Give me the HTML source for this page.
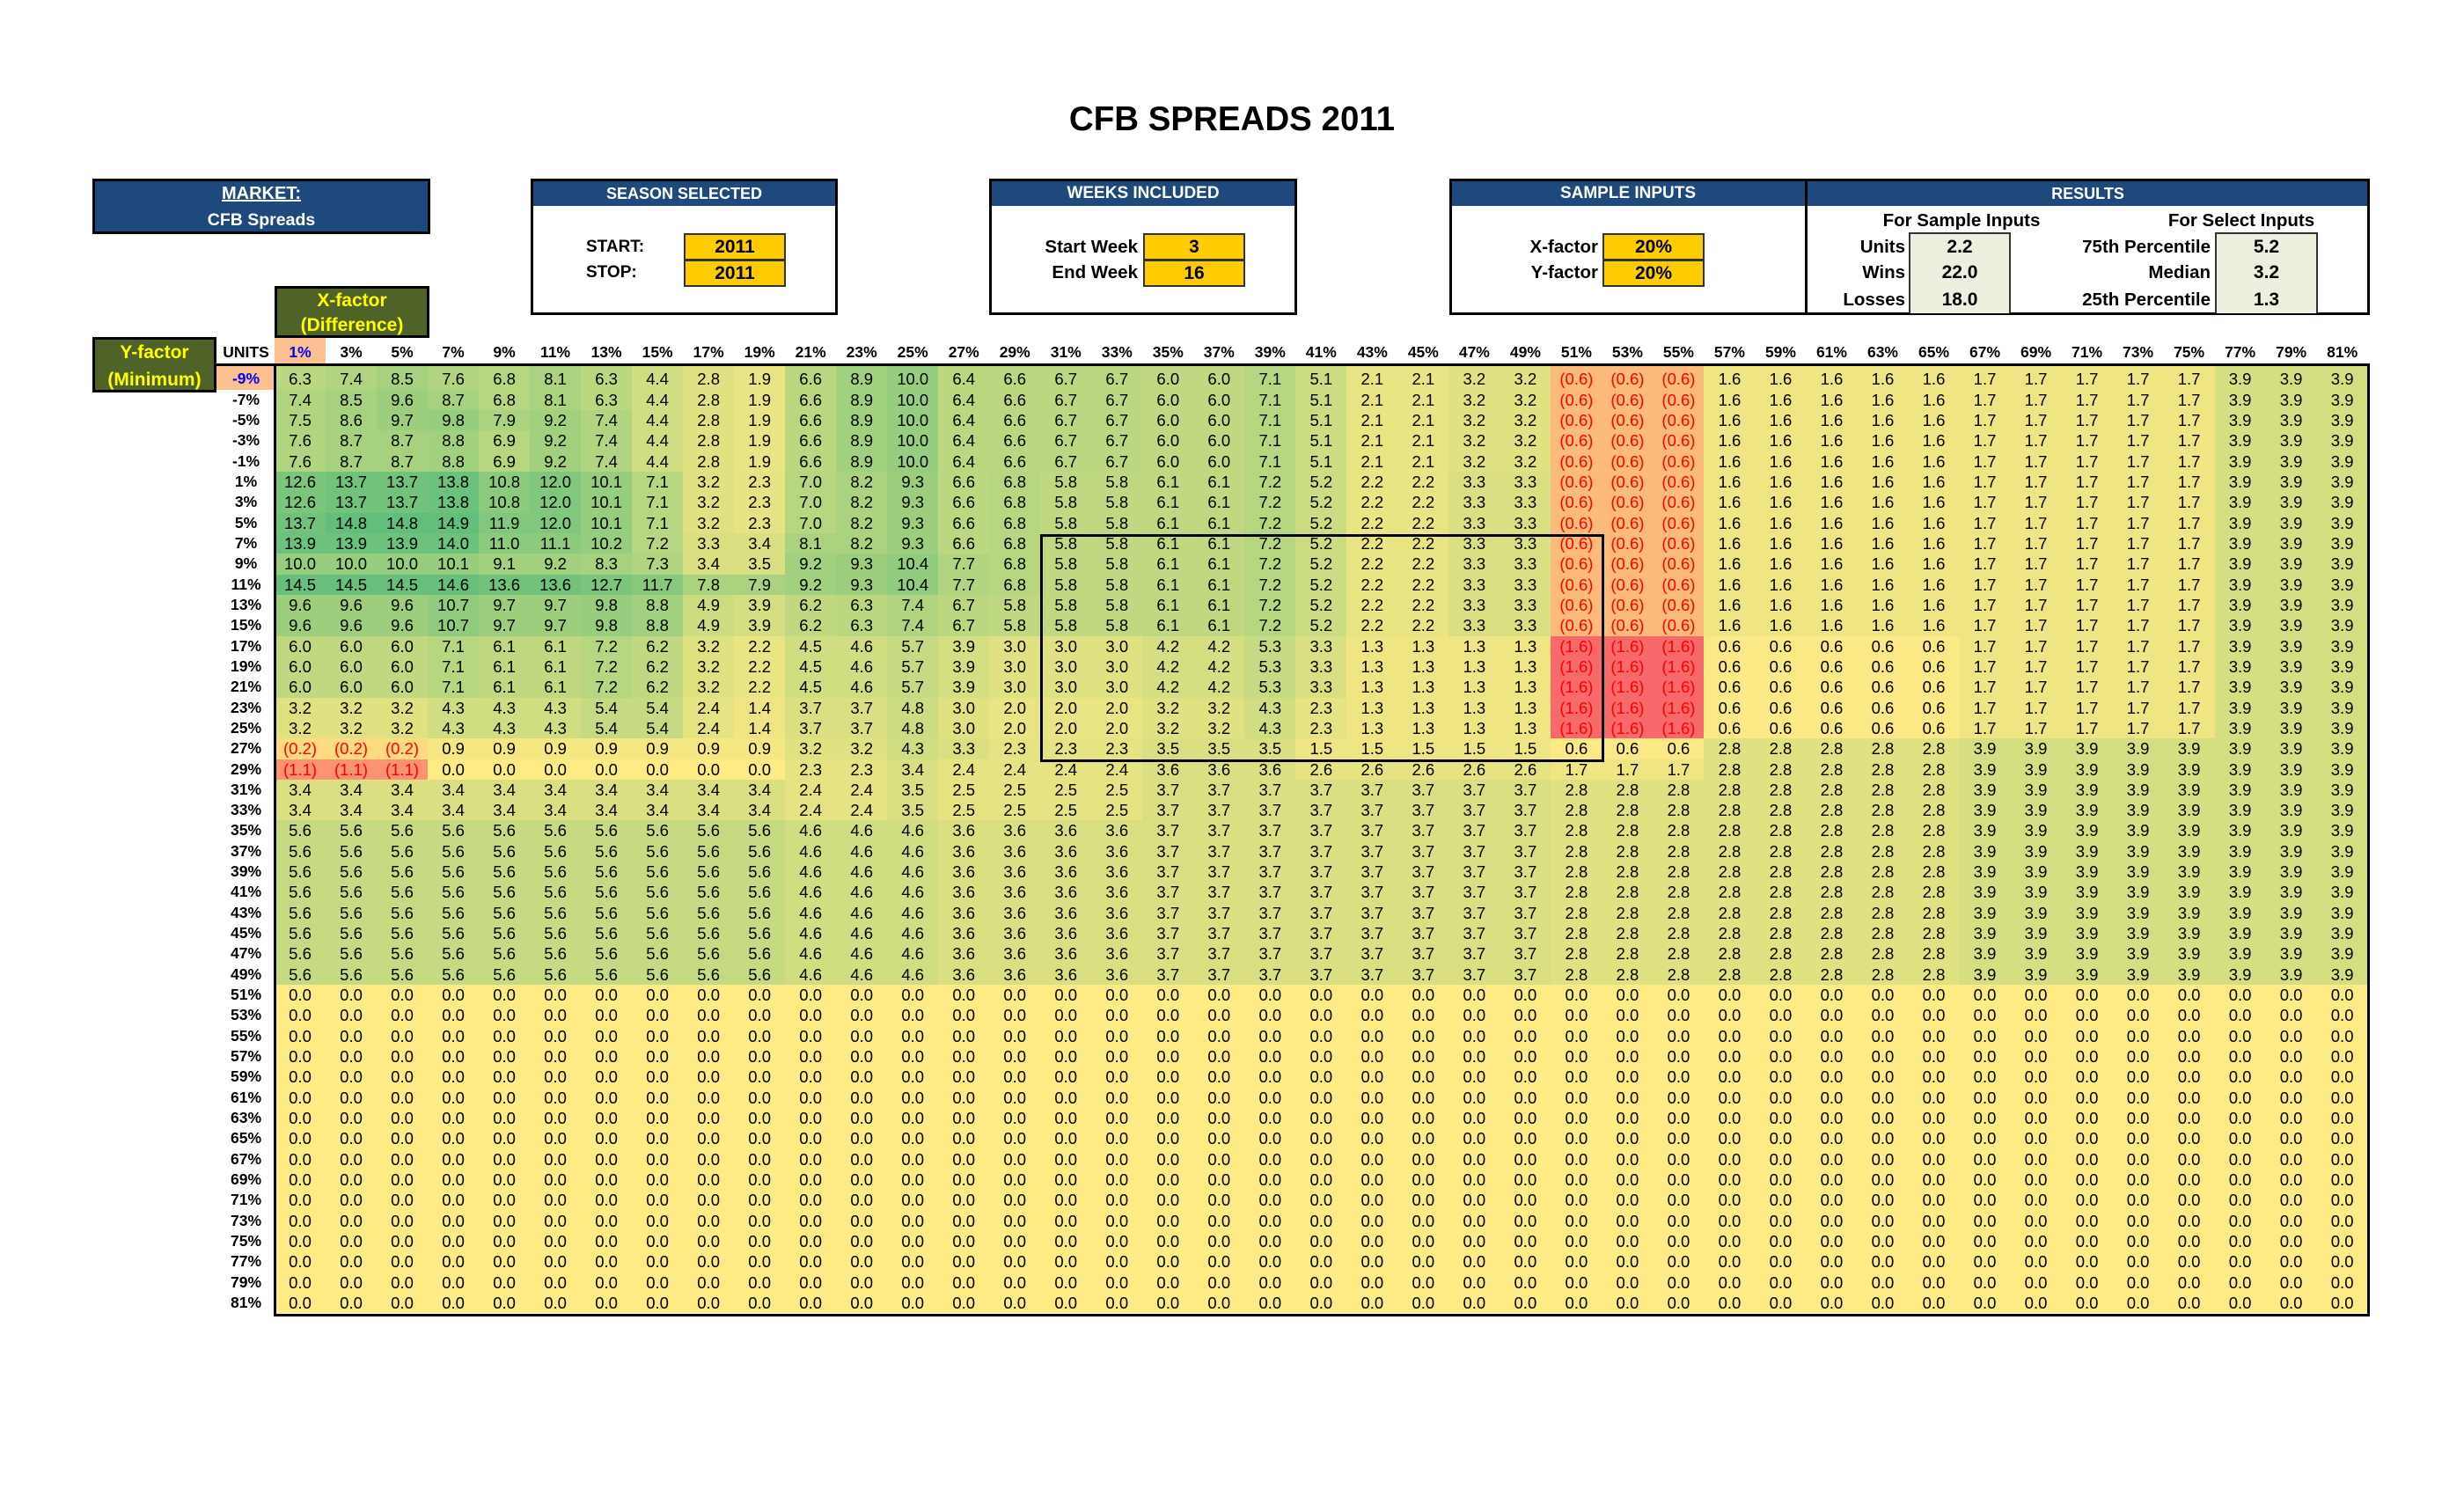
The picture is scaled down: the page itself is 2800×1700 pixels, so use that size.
<!DOCTYPE html>
<html><head><meta charset="utf-8">
<style>
*{box-sizing:border-box;margin:0;padding:0}
html,body{width:2800px;height:1700px;background:#fff;overflow:hidden}
body{position:relative;font-family:"Liberation Sans",Arial,sans-serif;color:#000}
.abs{position:absolute}
.t{position:absolute;white-space:nowrap;font-weight:bold;line-height:30px;height:30px}
.w{color:#fff}
.yl{color:#FFFF00}
.box{position:absolute;border:3px solid #000;background:#fff}
.hb{position:absolute;left:0;right:0;top:0;height:28px;background:#1F497D}
.y{position:absolute;width:116px;height:31px;background:#FFCC00;border:2px solid #333;font-weight:bold;font-size:21px;text-align:center;line-height:27px}
.ch{position:absolute;left:312px;top:384px;display:grid;grid-template-columns:repeat(41,58.03px);height:32px;font-weight:bold;font-size:17.5px}
.ch b{text-align:center;line-height:32px}
.ch b:first-child{background:#FAC090;color:#0000FF}
.rl{position:absolute;left:246px;top:416px;width:67px;display:grid;grid-template-rows:26.6px repeat(45,23.33px);font-weight:bold;font-size:17.5px}
.rl b{text-align:center;line-height:23.33px}
.rl b:first-child{padding-top:3px;background:#FAC090;color:#0000FF}
.g{position:absolute;left:312px;top:416px;display:grid;grid-template-columns:repeat(41,58.03px);grid-template-rows:26.6px repeat(45,23.33px);font-size:18.5px}
.g i{font-style:normal;text-align:center;line-height:23.33px;background:#FFEB84}
.g i:nth-child(-n+41){padding-top:3px}
.g i.a1{background:#FAE984}.g i.a2{background:#F5E883}.g i.a3{background:#EFE683}.g i.a4{background:#EAE583}
.g i.a5{background:#E5E382}.g i.a6{background:#E0E282}.g i.a7{background:#DAE082}.g i.a8{background:#D5DF82}
.g i.a9{background:#D0DD81}.g i.a10{background:#CBDC81}.g i.a11{background:#C5DA81}.g i.a12{background:#C0D980}
.g i.a13{background:#BBD780}.g i.a14{background:#B6D680}.g i.a15{background:#B0D47F}.g i.a16{background:#ABD37F}
.g i.a17{background:#A6D17F}.g i.a18{background:#A1D07F}.g i.a19{background:#9CCE7E}.g i.a20{background:#96CD7E}
.g i.a21{background:#91CB7E}.g i.a22{background:#8CCA7D}.g i.a23{background:#87C87D}.g i.a24{background:#81C77D}
.g i.a25{background:#7CC57C}.g i.a26{background:#77C47C}.g i.a27{background:#72C27C}.g i.a28{background:#6CC17C}
.g i.a29{background:#67BF7B}.g i.a30{background:#62BE7B}
.g i.r2{background:#FEDB81;color:#f00}.g i.r6{background:#FCBA7B;color:#f00}.g i.r11{background:#FA9273;color:#f00}.g i.r16{background:#F8696B;color:#f00}
</style></head><body>

<div class="t" style="left:1000px;top:111px;width:800px;text-align:center;font-size:38.5px;line-height:50px;height:50px">CFB SPREADS 2011</div>

<!-- MARKET -->
<div class="box" style="left:105px;top:203px;width:384px;height:63px;background:#1F497D"></div>
<div class="t w" style="left:105px;top:205px;width:384px;text-align:center;font-size:20px;text-decoration:underline">MARKET:</div>
<div class="t w" style="left:105px;top:235px;width:384px;text-align:center;font-size:19.5px">CFB Spreads</div>

<!-- SEASON -->
<div class="box" style="left:603px;top:203px;width:349px;height:155px"><div class="hb"></div></div>
<div class="t w" style="left:603px;top:205px;width:349px;text-align:center;font-size:18px">SEASON SELECTED</div>
<div class="t" style="left:666px;top:266px;font-size:19px">START:</div>
<div class="t" style="left:666px;top:295px;font-size:19px">STOP:</div>
<div class="y" style="left:777px;top:265px">2011</div>
<div class="y" style="left:777px;top:295px">2011</div>

<!-- WEEKS -->
<div class="box" style="left:1124px;top:203px;width:350px;height:155px"><div class="hb"></div></div>
<div class="t w" style="left:1124px;top:205px;width:350px;text-align:center;font-size:19px">WEEKS INCLUDED</div>
<div class="t" style="left:1093px;top:266px;width:200px;text-align:right;font-size:20.5px">Start Week</div>
<div class="t" style="left:1093px;top:295px;width:200px;text-align:right;font-size:20.5px">End Week</div>
<div class="y" style="left:1299px;top:265px">3</div>
<div class="y" style="left:1299px;top:295px">16</div>

<!-- SAMPLE / RESULTS -->
<div class="box" style="left:1647px;top:203px;width:1046px;height:155px"><div class="hb"></div></div>
<div class="abs" style="left:2051px;top:203px;width:3px;height:155px;background:#000"></div>
<div class="t w" style="left:1647px;top:205px;width:406px;text-align:center;font-size:19px">SAMPLE INPUTS</div>
<div class="t w" style="left:2053px;top:205px;width:639px;text-align:center;font-size:18px">RESULTS</div>
<div class="t" style="left:1616px;top:266px;width:200px;text-align:right;font-size:20.5px">X-factor</div>
<div class="t" style="left:1616px;top:295px;width:200px;text-align:right;font-size:20.5px">Y-factor</div>
<div class="y" style="left:1821px;top:265px">20%</div>
<div class="y" style="left:1821px;top:295px">20%</div>
<div class="t" style="left:2079px;top:236px;width:300px;text-align:center;font-size:20.5px">For Sample Inputs</div>
<div class="t" style="left:2397px;top:236px;width:300px;text-align:center;font-size:20.5px">For Select Inputs</div>
<div class="abs" style="left:2169px;top:264px;width:116px;height:92px;background:#EBF1DE;border:2px solid #333;border-bottom:0"></div>
<div class="abs" style="left:2517px;top:264px;width:117px;height:92px;background:#EBF1DE;border:2px solid #333;border-bottom:0"></div>
<div class="t" style="left:1965px;top:266px;width:200px;text-align:right;font-size:20.5px">Units</div>
<div class="t" style="left:1965px;top:295px;width:200px;text-align:right;font-size:20.5px">Wins</div>
<div class="t" style="left:1965px;top:326px;width:200px;text-align:right;font-size:20.5px">Losses</div>
<div class="t" style="left:2169px;top:266px;width:116px;text-align:center;font-size:21px">2.2</div>
<div class="t" style="left:2169px;top:295px;width:116px;text-align:center;font-size:21px">22.0</div>
<div class="t" style="left:2169px;top:326px;width:116px;text-align:center;font-size:21px">18.0</div>
<div class="t" style="left:2312px;top:266px;width:200px;text-align:right;font-size:20.5px">75th Percentile</div>
<div class="t" style="left:2312px;top:295px;width:200px;text-align:right;font-size:20.5px">Median</div>
<div class="t" style="left:2312px;top:326px;width:200px;text-align:right;font-size:20.5px">25th Percentile</div>
<div class="t" style="left:2517px;top:266px;width:117px;text-align:center;font-size:21px">5.2</div>
<div class="t" style="left:2517px;top:295px;width:117px;text-align:center;font-size:21px">3.2</div>
<div class="t" style="left:2517px;top:326px;width:117px;text-align:center;font-size:21px">1.3</div>

<!-- X / Y factor boxes -->
<div class="box" style="left:312px;top:325px;width:176px;height:59px;background:#4F6228"></div>
<div class="t yl" style="left:312px;top:327px;width:176px;text-align:center;font-size:21px">X-factor</div>
<div class="t yl" style="left:312px;top:355px;width:176px;text-align:center;font-size:21px">(Difference)</div>
<div class="box" style="left:105px;top:383px;width:141px;height:63px;background:#4F6228"></div>
<div class="t yl" style="left:105px;top:386px;width:141px;text-align:center;font-size:21px">Y-factor</div>
<div class="t yl" style="left:105px;top:417px;width:141px;text-align:center;font-size:21px">(Minimum)</div>
<div class="t" style="left:246px;top:385px;width:67px;text-align:center;font-size:17.5px">UNITS</div>

<!-- column headers -->
<div class="ch"><b>1%</b><b>3%</b><b>5%</b><b>7%</b><b>9%</b><b>11%</b><b>13%</b><b>15%</b><b>17%</b><b>19%</b><b>21%</b><b>23%</b><b>25%</b><b>27%</b><b>29%</b><b>31%</b><b>33%</b><b>35%</b><b>37%</b><b>39%</b><b>41%</b><b>43%</b><b>45%</b><b>47%</b><b>49%</b><b>51%</b><b>53%</b><b>55%</b><b>57%</b><b>59%</b><b>61%</b><b>63%</b><b>65%</b><b>67%</b><b>69%</b><b>71%</b><b>73%</b><b>75%</b><b>77%</b><b>79%</b><b>81%</b></div>

<!-- row labels -->
<div class="rl"><b>-9%</b><b>-7%</b><b>-5%</b><b>-3%</b><b>-1%</b><b>1%</b><b>3%</b><b>5%</b><b>7%</b><b>9%</b><b>11%</b><b>13%</b><b>15%</b><b>17%</b><b>19%</b><b>21%</b><b>23%</b><b>25%</b><b>27%</b><b>29%</b><b>31%</b><b>33%</b><b>35%</b><b>37%</b><b>39%</b><b>41%</b><b>43%</b><b>45%</b><b>47%</b><b>49%</b><b>51%</b><b>53%</b><b>55%</b><b>57%</b><b>59%</b><b>61%</b><b>63%</b><b>65%</b><b>67%</b><b>69%</b><b>71%</b><b>73%</b><b>75%</b><b>77%</b><b>79%</b><b>81%</b></div>

<!-- data grid -->
<div class="g">
<i class=a13>6.3</i><i class=a15>7.4</i><i class=a17>8.5</i><i class=a15>7.6</i><i class=a14>6.8</i><i class=a16>8.1</i><i class=a13>6.3</i><i class=a9>4.4</i><i class=a6>2.8</i><i class=a4>1.9</i><i class=a13>6.6</i><i class=a18>8.9</i><i class=a20>10.0</i><i class=a13>6.4</i><i class=a13>6.6</i><i class=a13>6.7</i><i class=a13>6.7</i><i class=a12>6.0</i><i class=a12>6.0</i><i class=a14>7.1</i><i class=a10>5.1</i><i class=a4>2.1</i><i class=a4>2.1</i><i class=a6>3.2</i><i class=a6>3.2</i><i class=r6>(0.6)</i><i class=r6>(0.6)</i><i class=r6>(0.6)</i><i class=a3>1.6</i><i class=a3>1.6</i><i class=a3>1.6</i><i class=a3>1.6</i><i class=a3>1.6</i><i class=a3>1.7</i><i class=a3>1.7</i><i class=a3>1.7</i><i class=a3>1.7</i><i class=a3>1.7</i><i class=a8>3.9</i><i class=a8>3.9</i><i class=a8>3.9</i>
<i class=a15>7.4</i><i class=a17>8.5</i><i class=a19>9.6</i><i class=a17>8.7</i><i class=a14>6.8</i><i class=a16>8.1</i><i class=a13>6.3</i><i class=a9>4.4</i><i class=a6>2.8</i><i class=a4>1.9</i><i class=a13>6.6</i><i class=a18>8.9</i><i class=a20>10.0</i><i class=a13>6.4</i><i class=a13>6.6</i><i class=a13>6.7</i><i class=a13>6.7</i><i class=a12>6.0</i><i class=a12>6.0</i><i class=a14>7.1</i><i class=a10>5.1</i><i class=a4>2.1</i><i class=a4>2.1</i><i class=a6>3.2</i><i class=a6>3.2</i><i class=r6>(0.6)</i><i class=r6>(0.6)</i><i class=r6>(0.6)</i><i class=a3>1.6</i><i class=a3>1.6</i><i class=a3>1.6</i><i class=a3>1.6</i><i class=a3>1.6</i><i class=a3>1.7</i><i class=a3>1.7</i><i class=a3>1.7</i><i class=a3>1.7</i><i class=a3>1.7</i><i class=a8>3.9</i><i class=a8>3.9</i><i class=a8>3.9</i>
<i class=a15>7.5</i><i class=a17>8.6</i><i class=a19>9.7</i><i class=a20>9.8</i><i class=a16>7.9</i><i class=a18>9.2</i><i class=a15>7.4</i><i class=a9>4.4</i><i class=a6>2.8</i><i class=a4>1.9</i><i class=a13>6.6</i><i class=a18>8.9</i><i class=a20>10.0</i><i class=a13>6.4</i><i class=a13>6.6</i><i class=a13>6.7</i><i class=a13>6.7</i><i class=a12>6.0</i><i class=a12>6.0</i><i class=a14>7.1</i><i class=a10>5.1</i><i class=a4>2.1</i><i class=a4>2.1</i><i class=a6>3.2</i><i class=a6>3.2</i><i class=r6>(0.6)</i><i class=r6>(0.6)</i><i class=r6>(0.6)</i><i class=a3>1.6</i><i class=a3>1.6</i><i class=a3>1.6</i><i class=a3>1.6</i><i class=a3>1.6</i><i class=a3>1.7</i><i class=a3>1.7</i><i class=a3>1.7</i><i class=a3>1.7</i><i class=a3>1.7</i><i class=a8>3.9</i><i class=a8>3.9</i><i class=a8>3.9</i>
<i class=a15>7.6</i><i class=a17>8.7</i><i class=a17>8.7</i><i class=a18>8.8</i><i class=a14>6.9</i><i class=a18>9.2</i><i class=a15>7.4</i><i class=a9>4.4</i><i class=a6>2.8</i><i class=a4>1.9</i><i class=a13>6.6</i><i class=a18>8.9</i><i class=a20>10.0</i><i class=a13>6.4</i><i class=a13>6.6</i><i class=a13>6.7</i><i class=a13>6.7</i><i class=a12>6.0</i><i class=a12>6.0</i><i class=a14>7.1</i><i class=a10>5.1</i><i class=a4>2.1</i><i class=a4>2.1</i><i class=a6>3.2</i><i class=a6>3.2</i><i class=r6>(0.6)</i><i class=r6>(0.6)</i><i class=r6>(0.6)</i><i class=a3>1.6</i><i class=a3>1.6</i><i class=a3>1.6</i><i class=a3>1.6</i><i class=a3>1.6</i><i class=a3>1.7</i><i class=a3>1.7</i><i class=a3>1.7</i><i class=a3>1.7</i><i class=a3>1.7</i><i class=a8>3.9</i><i class=a8>3.9</i><i class=a8>3.9</i>
<i class=a15>7.6</i><i class=a17>8.7</i><i class=a17>8.7</i><i class=a18>8.8</i><i class=a14>6.9</i><i class=a18>9.2</i><i class=a15>7.4</i><i class=a9>4.4</i><i class=a6>2.8</i><i class=a4>1.9</i><i class=a13>6.6</i><i class=a18>8.9</i><i class=a20>10.0</i><i class=a13>6.4</i><i class=a13>6.6</i><i class=a13>6.7</i><i class=a13>6.7</i><i class=a12>6.0</i><i class=a12>6.0</i><i class=a14>7.1</i><i class=a10>5.1</i><i class=a4>2.1</i><i class=a4>2.1</i><i class=a6>3.2</i><i class=a6>3.2</i><i class=r6>(0.6)</i><i class=r6>(0.6)</i><i class=r6>(0.6)</i><i class=a3>1.6</i><i class=a3>1.6</i><i class=a3>1.6</i><i class=a3>1.6</i><i class=a3>1.6</i><i class=a3>1.7</i><i class=a3>1.7</i><i class=a3>1.7</i><i class=a3>1.7</i><i class=a3>1.7</i><i class=a8>3.9</i><i class=a8>3.9</i><i class=a8>3.9</i>
<i class=a25>12.6</i><i class=a27>13.7</i><i class=a27>13.7</i><i class=a28>13.8</i><i class=a22>10.8</i><i class=a24>12.0</i><i class=a20>10.1</i><i class=a14>7.1</i><i class=a6>3.2</i><i class=a5>2.3</i><i class=a14>7.0</i><i class=a16>8.2</i><i class=a19>9.3</i><i class=a13>6.6</i><i class=a14>6.8</i><i class=a12>5.8</i><i class=a12>5.8</i><i class=a12>6.1</i><i class=a12>6.1</i><i class=a14>7.2</i><i class=a10>5.2</i><i class=a4>2.2</i><i class=a4>2.2</i><i class=a7>3.3</i><i class=a7>3.3</i><i class=r6>(0.6)</i><i class=r6>(0.6)</i><i class=r6>(0.6)</i><i class=a3>1.6</i><i class=a3>1.6</i><i class=a3>1.6</i><i class=a3>1.6</i><i class=a3>1.6</i><i class=a3>1.7</i><i class=a3>1.7</i><i class=a3>1.7</i><i class=a3>1.7</i><i class=a3>1.7</i><i class=a8>3.9</i><i class=a8>3.9</i><i class=a8>3.9</i>
<i class=a25>12.6</i><i class=a27>13.7</i><i class=a27>13.7</i><i class=a28>13.8</i><i class=a22>10.8</i><i class=a24>12.0</i><i class=a20>10.1</i><i class=a14>7.1</i><i class=a6>3.2</i><i class=a5>2.3</i><i class=a14>7.0</i><i class=a16>8.2</i><i class=a19>9.3</i><i class=a13>6.6</i><i class=a14>6.8</i><i class=a12>5.8</i><i class=a12>5.8</i><i class=a12>6.1</i><i class=a12>6.1</i><i class=a14>7.2</i><i class=a10>5.2</i><i class=a4>2.2</i><i class=a4>2.2</i><i class=a7>3.3</i><i class=a7>3.3</i><i class=r6>(0.6)</i><i class=r6>(0.6)</i><i class=r6>(0.6)</i><i class=a3>1.6</i><i class=a3>1.6</i><i class=a3>1.6</i><i class=a3>1.6</i><i class=a3>1.6</i><i class=a3>1.7</i><i class=a3>1.7</i><i class=a3>1.7</i><i class=a3>1.7</i><i class=a3>1.7</i><i class=a8>3.9</i><i class=a8>3.9</i><i class=a8>3.9</i>
<i class=a27>13.7</i><i class=a30>14.8</i><i class=a30>14.8</i><i class=a30>14.9</i><i class=a24>11.9</i><i class=a24>12.0</i><i class=a20>10.1</i><i class=a14>7.1</i><i class=a6>3.2</i><i class=a5>2.3</i><i class=a14>7.0</i><i class=a16>8.2</i><i class=a19>9.3</i><i class=a13>6.6</i><i class=a14>6.8</i><i class=a12>5.8</i><i class=a12>5.8</i><i class=a12>6.1</i><i class=a12>6.1</i><i class=a14>7.2</i><i class=a10>5.2</i><i class=a4>2.2</i><i class=a4>2.2</i><i class=a7>3.3</i><i class=a7>3.3</i><i class=r6>(0.6)</i><i class=r6>(0.6)</i><i class=r6>(0.6)</i><i class=a3>1.6</i><i class=a3>1.6</i><i class=a3>1.6</i><i class=a3>1.6</i><i class=a3>1.6</i><i class=a3>1.7</i><i class=a3>1.7</i><i class=a3>1.7</i><i class=a3>1.7</i><i class=a3>1.7</i><i class=a8>3.9</i><i class=a8>3.9</i><i class=a8>3.9</i>
<i class=a28>13.9</i><i class=a28>13.9</i><i class=a28>13.9</i><i class=a28>14.0</i><i class=a22>11.0</i><i class=a22>11.1</i><i class=a20>10.2</i><i class=a14>7.2</i><i class=a7>3.3</i><i class=a7>3.4</i><i class=a16>8.1</i><i class=a16>8.2</i><i class=a19>9.3</i><i class=a13>6.6</i><i class=a14>6.8</i><i class=a12>5.8</i><i class=a12>5.8</i><i class=a12>6.1</i><i class=a12>6.1</i><i class=a14>7.2</i><i class=a10>5.2</i><i class=a4>2.2</i><i class=a4>2.2</i><i class=a7>3.3</i><i class=a7>3.3</i><i class=r6>(0.6)</i><i class=r6>(0.6)</i><i class=r6>(0.6)</i><i class=a3>1.6</i><i class=a3>1.6</i><i class=a3>1.6</i><i class=a3>1.6</i><i class=a3>1.6</i><i class=a3>1.7</i><i class=a3>1.7</i><i class=a3>1.7</i><i class=a3>1.7</i><i class=a3>1.7</i><i class=a8>3.9</i><i class=a8>3.9</i><i class=a8>3.9</i>
<i class=a20>10.0</i><i class=a20>10.0</i><i class=a20>10.0</i><i class=a20>10.1</i><i class=a18>9.1</i><i class=a18>9.2</i><i class=a17>8.3</i><i class=a15>7.3</i><i class=a7>3.4</i><i class=a7>3.5</i><i class=a18>9.2</i><i class=a19>9.3</i><i class=a21>10.4</i><i class=a15>7.7</i><i class=a14>6.8</i><i class=a12>5.8</i><i class=a12>5.8</i><i class=a12>6.1</i><i class=a12>6.1</i><i class=a14>7.2</i><i class=a10>5.2</i><i class=a4>2.2</i><i class=a4>2.2</i><i class=a7>3.3</i><i class=a7>3.3</i><i class=r6>(0.6)</i><i class=r6>(0.6)</i><i class=r6>(0.6)</i><i class=a3>1.6</i><i class=a3>1.6</i><i class=a3>1.6</i><i class=a3>1.6</i><i class=a3>1.6</i><i class=a3>1.7</i><i class=a3>1.7</i><i class=a3>1.7</i><i class=a3>1.7</i><i class=a3>1.7</i><i class=a8>3.9</i><i class=a8>3.9</i><i class=a8>3.9</i>
<i class=a29>14.5</i><i class=a29>14.5</i><i class=a29>14.5</i><i class=a29>14.6</i><i class=a27>13.6</i><i class=a27>13.6</i><i class=a25>12.7</i><i class=a23>11.7</i><i class=a16>7.8</i><i class=a16>7.9</i><i class=a18>9.2</i><i class=a19>9.3</i><i class=a21>10.4</i><i class=a15>7.7</i><i class=a14>6.8</i><i class=a12>5.8</i><i class=a12>5.8</i><i class=a12>6.1</i><i class=a12>6.1</i><i class=a14>7.2</i><i class=a10>5.2</i><i class=a4>2.2</i><i class=a4>2.2</i><i class=a7>3.3</i><i class=a7>3.3</i><i class=r6>(0.6)</i><i class=r6>(0.6)</i><i class=r6>(0.6)</i><i class=a3>1.6</i><i class=a3>1.6</i><i class=a3>1.6</i><i class=a3>1.6</i><i class=a3>1.6</i><i class=a3>1.7</i><i class=a3>1.7</i><i class=a3>1.7</i><i class=a3>1.7</i><i class=a3>1.7</i><i class=a8>3.9</i><i class=a8>3.9</i><i class=a8>3.9</i>
<i class=a19>9.6</i><i class=a19>9.6</i><i class=a19>9.6</i><i class=a21>10.7</i><i class=a19>9.7</i><i class=a19>9.7</i><i class=a20>9.8</i><i class=a18>8.8</i><i class=a10>4.9</i><i class=a8>3.9</i><i class=a12>6.2</i><i class=a13>6.3</i><i class=a15>7.4</i><i class=a13>6.7</i><i class=a12>5.8</i><i class=a12>5.8</i><i class=a12>5.8</i><i class=a12>6.1</i><i class=a12>6.1</i><i class=a14>7.2</i><i class=a10>5.2</i><i class=a4>2.2</i><i class=a4>2.2</i><i class=a7>3.3</i><i class=a7>3.3</i><i class=r6>(0.6)</i><i class=r6>(0.6)</i><i class=r6>(0.6)</i><i class=a3>1.6</i><i class=a3>1.6</i><i class=a3>1.6</i><i class=a3>1.6</i><i class=a3>1.6</i><i class=a3>1.7</i><i class=a3>1.7</i><i class=a3>1.7</i><i class=a3>1.7</i><i class=a3>1.7</i><i class=a8>3.9</i><i class=a8>3.9</i><i class=a8>3.9</i>
<i class=a19>9.6</i><i class=a19>9.6</i><i class=a19>9.6</i><i class=a21>10.7</i><i class=a19>9.7</i><i class=a19>9.7</i><i class=a20>9.8</i><i class=a18>8.8</i><i class=a10>4.9</i><i class=a8>3.9</i><i class=a12>6.2</i><i class=a13>6.3</i><i class=a15>7.4</i><i class=a13>6.7</i><i class=a12>5.8</i><i class=a12>5.8</i><i class=a12>5.8</i><i class=a12>6.1</i><i class=a12>6.1</i><i class=a14>7.2</i><i class=a10>5.2</i><i class=a4>2.2</i><i class=a4>2.2</i><i class=a7>3.3</i><i class=a7>3.3</i><i class=r6>(0.6)</i><i class=r6>(0.6)</i><i class=r6>(0.6)</i><i class=a3>1.6</i><i class=a3>1.6</i><i class=a3>1.6</i><i class=a3>1.6</i><i class=a3>1.6</i><i class=a3>1.7</i><i class=a3>1.7</i><i class=a3>1.7</i><i class=a3>1.7</i><i class=a3>1.7</i><i class=a8>3.9</i><i class=a8>3.9</i><i class=a8>3.9</i>
<i class=a12>6.0</i><i class=a12>6.0</i><i class=a12>6.0</i><i class=a14>7.1</i><i class=a12>6.1</i><i class=a12>6.1</i><i class=a14>7.2</i><i class=a12>6.2</i><i class=a6>3.2</i><i class=a4>2.2</i><i class=a9>4.5</i><i class=a9>4.6</i><i class=a11>5.7</i><i class=a8>3.9</i><i class=a6>3.0</i><i class=a6>3.0</i><i class=a6>3.0</i><i class=a8>4.2</i><i class=a8>4.2</i><i class=a11>5.3</i><i class=a7>3.3</i><i class=a3>1.3</i><i class=a3>1.3</i><i class=a3>1.3</i><i class=a3>1.3</i><i class=r16>(1.6)</i><i class=r16>(1.6)</i><i class=r16>(1.6)</i><i class=a1>0.6</i><i class=a1>0.6</i><i class=a1>0.6</i><i class=a1>0.6</i><i class=a1>0.6</i><i class=a3>1.7</i><i class=a3>1.7</i><i class=a3>1.7</i><i class=a3>1.7</i><i class=a3>1.7</i><i class=a8>3.9</i><i class=a8>3.9</i><i class=a8>3.9</i>
<i class=a12>6.0</i><i class=a12>6.0</i><i class=a12>6.0</i><i class=a14>7.1</i><i class=a12>6.1</i><i class=a12>6.1</i><i class=a14>7.2</i><i class=a12>6.2</i><i class=a6>3.2</i><i class=a4>2.2</i><i class=a9>4.5</i><i class=a9>4.6</i><i class=a11>5.7</i><i class=a8>3.9</i><i class=a6>3.0</i><i class=a6>3.0</i><i class=a6>3.0</i><i class=a8>4.2</i><i class=a8>4.2</i><i class=a11>5.3</i><i class=a7>3.3</i><i class=a3>1.3</i><i class=a3>1.3</i><i class=a3>1.3</i><i class=a3>1.3</i><i class=r16>(1.6)</i><i class=r16>(1.6)</i><i class=r16>(1.6)</i><i class=a1>0.6</i><i class=a1>0.6</i><i class=a1>0.6</i><i class=a1>0.6</i><i class=a1>0.6</i><i class=a3>1.7</i><i class=a3>1.7</i><i class=a3>1.7</i><i class=a3>1.7</i><i class=a3>1.7</i><i class=a8>3.9</i><i class=a8>3.9</i><i class=a8>3.9</i>
<i class=a12>6.0</i><i class=a12>6.0</i><i class=a12>6.0</i><i class=a14>7.1</i><i class=a12>6.1</i><i class=a12>6.1</i><i class=a14>7.2</i><i class=a12>6.2</i><i class=a6>3.2</i><i class=a4>2.2</i><i class=a9>4.5</i><i class=a9>4.6</i><i class=a11>5.7</i><i class=a8>3.9</i><i class=a6>3.0</i><i class=a6>3.0</i><i class=a6>3.0</i><i class=a8>4.2</i><i class=a8>4.2</i><i class=a11>5.3</i><i class=a7>3.3</i><i class=a3>1.3</i><i class=a3>1.3</i><i class=a3>1.3</i><i class=a3>1.3</i><i class=r16>(1.6)</i><i class=r16>(1.6)</i><i class=r16>(1.6)</i><i class=a1>0.6</i><i class=a1>0.6</i><i class=a1>0.6</i><i class=a1>0.6</i><i class=a1>0.6</i><i class=a3>1.7</i><i class=a3>1.7</i><i class=a3>1.7</i><i class=a3>1.7</i><i class=a3>1.7</i><i class=a8>3.9</i><i class=a8>3.9</i><i class=a8>3.9</i>
<i class=a6>3.2</i><i class=a6>3.2</i><i class=a6>3.2</i><i class=a9>4.3</i><i class=a9>4.3</i><i class=a9>4.3</i><i class=a11>5.4</i><i class=a11>5.4</i><i class=a5>2.4</i><i class=a3>1.4</i><i class=a7>3.7</i><i class=a7>3.7</i><i class=a10>4.8</i><i class=a6>3.0</i><i class=a4>2.0</i><i class=a4>2.0</i><i class=a4>2.0</i><i class=a6>3.2</i><i class=a6>3.2</i><i class=a9>4.3</i><i class=a5>2.3</i><i class=a3>1.3</i><i class=a3>1.3</i><i class=a3>1.3</i><i class=a3>1.3</i><i class=r16>(1.6)</i><i class=r16>(1.6)</i><i class=r16>(1.6)</i><i class=a1>0.6</i><i class=a1>0.6</i><i class=a1>0.6</i><i class=a1>0.6</i><i class=a1>0.6</i><i class=a3>1.7</i><i class=a3>1.7</i><i class=a3>1.7</i><i class=a3>1.7</i><i class=a3>1.7</i><i class=a8>3.9</i><i class=a8>3.9</i><i class=a8>3.9</i>
<i class=a6>3.2</i><i class=a6>3.2</i><i class=a6>3.2</i><i class=a9>4.3</i><i class=a9>4.3</i><i class=a9>4.3</i><i class=a11>5.4</i><i class=a11>5.4</i><i class=a5>2.4</i><i class=a3>1.4</i><i class=a7>3.7</i><i class=a7>3.7</i><i class=a10>4.8</i><i class=a6>3.0</i><i class=a4>2.0</i><i class=a4>2.0</i><i class=a4>2.0</i><i class=a6>3.2</i><i class=a6>3.2</i><i class=a9>4.3</i><i class=a5>2.3</i><i class=a3>1.3</i><i class=a3>1.3</i><i class=a3>1.3</i><i class=a3>1.3</i><i class=r16>(1.6)</i><i class=r16>(1.6)</i><i class=r16>(1.6)</i><i class=a1>0.6</i><i class=a1>0.6</i><i class=a1>0.6</i><i class=a1>0.6</i><i class=a1>0.6</i><i class=a3>1.7</i><i class=a3>1.7</i><i class=a3>1.7</i><i class=a3>1.7</i><i class=a3>1.7</i><i class=a8>3.9</i><i class=a8>3.9</i><i class=a8>3.9</i>
<i class=r2>(0.2)</i><i class=r2>(0.2)</i><i class=r2>(0.2)</i><i class=a2>0.9</i><i class=a2>0.9</i><i class=a2>0.9</i><i class=a2>0.9</i><i class=a2>0.9</i><i class=a2>0.9</i><i class=a2>0.9</i><i class=a6>3.2</i><i class=a6>3.2</i><i class=a9>4.3</i><i class=a7>3.3</i><i class=a5>2.3</i><i class=a5>2.3</i><i class=a5>2.3</i><i class=a7>3.5</i><i class=a7>3.5</i><i class=a7>3.5</i><i class=a3>1.5</i><i class=a3>1.5</i><i class=a3>1.5</i><i class=a3>1.5</i><i class=a3>1.5</i><i class=a1>0.6</i><i class=a1>0.6</i><i class=a1>0.6</i><i class=a6>2.8</i><i class=a6>2.8</i><i class=a6>2.8</i><i class=a6>2.8</i><i class=a6>2.8</i><i class=a8>3.9</i><i class=a8>3.9</i><i class=a8>3.9</i><i class=a8>3.9</i><i class=a8>3.9</i><i class=a8>3.9</i><i class=a8>3.9</i><i class=a8>3.9</i>
<i class=r11>(1.1)</i><i class=r11>(1.1)</i><i class=r11>(1.1)</i><i>0.0</i><i>0.0</i><i>0.0</i><i>0.0</i><i>0.0</i><i>0.0</i><i>0.0</i><i class=a5>2.3</i><i class=a5>2.3</i><i class=a7>3.4</i><i class=a5>2.4</i><i class=a5>2.4</i><i class=a5>2.4</i><i class=a5>2.4</i><i class=a7>3.6</i><i class=a7>3.6</i><i class=a7>3.6</i><i class=a5>2.6</i><i class=a5>2.6</i><i class=a5>2.6</i><i class=a5>2.6</i><i class=a5>2.6</i><i class=a3>1.7</i><i class=a3>1.7</i><i class=a3>1.7</i><i class=a6>2.8</i><i class=a6>2.8</i><i class=a6>2.8</i><i class=a6>2.8</i><i class=a6>2.8</i><i class=a8>3.9</i><i class=a8>3.9</i><i class=a8>3.9</i><i class=a8>3.9</i><i class=a8>3.9</i><i class=a8>3.9</i><i class=a8>3.9</i><i class=a8>3.9</i>
<i class=a7>3.4</i><i class=a7>3.4</i><i class=a7>3.4</i><i class=a7>3.4</i><i class=a7>3.4</i><i class=a7>3.4</i><i class=a7>3.4</i><i class=a7>3.4</i><i class=a7>3.4</i><i class=a7>3.4</i><i class=a5>2.4</i><i class=a5>2.4</i><i class=a7>3.5</i><i class=a5>2.5</i><i class=a5>2.5</i><i class=a5>2.5</i><i class=a5>2.5</i><i class=a7>3.7</i><i class=a7>3.7</i><i class=a7>3.7</i><i class=a7>3.7</i><i class=a7>3.7</i><i class=a7>3.7</i><i class=a7>3.7</i><i class=a7>3.7</i><i class=a6>2.8</i><i class=a6>2.8</i><i class=a6>2.8</i><i class=a6>2.8</i><i class=a6>2.8</i><i class=a6>2.8</i><i class=a6>2.8</i><i class=a6>2.8</i><i class=a8>3.9</i><i class=a8>3.9</i><i class=a8>3.9</i><i class=a8>3.9</i><i class=a8>3.9</i><i class=a8>3.9</i><i class=a8>3.9</i><i class=a8>3.9</i>
<i class=a7>3.4</i><i class=a7>3.4</i><i class=a7>3.4</i><i class=a7>3.4</i><i class=a7>3.4</i><i class=a7>3.4</i><i class=a7>3.4</i><i class=a7>3.4</i><i class=a7>3.4</i><i class=a7>3.4</i><i class=a5>2.4</i><i class=a5>2.4</i><i class=a7>3.5</i><i class=a5>2.5</i><i class=a5>2.5</i><i class=a5>2.5</i><i class=a5>2.5</i><i class=a7>3.7</i><i class=a7>3.7</i><i class=a7>3.7</i><i class=a7>3.7</i><i class=a7>3.7</i><i class=a7>3.7</i><i class=a7>3.7</i><i class=a7>3.7</i><i class=a6>2.8</i><i class=a6>2.8</i><i class=a6>2.8</i><i class=a6>2.8</i><i class=a6>2.8</i><i class=a6>2.8</i><i class=a6>2.8</i><i class=a6>2.8</i><i class=a8>3.9</i><i class=a8>3.9</i><i class=a8>3.9</i><i class=a8>3.9</i><i class=a8>3.9</i><i class=a8>3.9</i><i class=a8>3.9</i><i class=a8>3.9</i>
<i class=a11>5.6</i><i class=a11>5.6</i><i class=a11>5.6</i><i class=a11>5.6</i><i class=a11>5.6</i><i class=a11>5.6</i><i class=a11>5.6</i><i class=a11>5.6</i><i class=a11>5.6</i><i class=a11>5.6</i><i class=a9>4.6</i><i class=a9>4.6</i><i class=a9>4.6</i><i class=a7>3.6</i><i class=a7>3.6</i><i class=a7>3.6</i><i class=a7>3.6</i><i class=a7>3.7</i><i class=a7>3.7</i><i class=a7>3.7</i><i class=a7>3.7</i><i class=a7>3.7</i><i class=a7>3.7</i><i class=a7>3.7</i><i class=a7>3.7</i><i class=a6>2.8</i><i class=a6>2.8</i><i class=a6>2.8</i><i class=a6>2.8</i><i class=a6>2.8</i><i class=a6>2.8</i><i class=a6>2.8</i><i class=a6>2.8</i><i class=a8>3.9</i><i class=a8>3.9</i><i class=a8>3.9</i><i class=a8>3.9</i><i class=a8>3.9</i><i class=a8>3.9</i><i class=a8>3.9</i><i class=a8>3.9</i>
<i class=a11>5.6</i><i class=a11>5.6</i><i class=a11>5.6</i><i class=a11>5.6</i><i class=a11>5.6</i><i class=a11>5.6</i><i class=a11>5.6</i><i class=a11>5.6</i><i class=a11>5.6</i><i class=a11>5.6</i><i class=a9>4.6</i><i class=a9>4.6</i><i class=a9>4.6</i><i class=a7>3.6</i><i class=a7>3.6</i><i class=a7>3.6</i><i class=a7>3.6</i><i class=a7>3.7</i><i class=a7>3.7</i><i class=a7>3.7</i><i class=a7>3.7</i><i class=a7>3.7</i><i class=a7>3.7</i><i class=a7>3.7</i><i class=a7>3.7</i><i class=a6>2.8</i><i class=a6>2.8</i><i class=a6>2.8</i><i class=a6>2.8</i><i class=a6>2.8</i><i class=a6>2.8</i><i class=a6>2.8</i><i class=a6>2.8</i><i class=a8>3.9</i><i class=a8>3.9</i><i class=a8>3.9</i><i class=a8>3.9</i><i class=a8>3.9</i><i class=a8>3.9</i><i class=a8>3.9</i><i class=a8>3.9</i>
<i class=a11>5.6</i><i class=a11>5.6</i><i class=a11>5.6</i><i class=a11>5.6</i><i class=a11>5.6</i><i class=a11>5.6</i><i class=a11>5.6</i><i class=a11>5.6</i><i class=a11>5.6</i><i class=a11>5.6</i><i class=a9>4.6</i><i class=a9>4.6</i><i class=a9>4.6</i><i class=a7>3.6</i><i class=a7>3.6</i><i class=a7>3.6</i><i class=a7>3.6</i><i class=a7>3.7</i><i class=a7>3.7</i><i class=a7>3.7</i><i class=a7>3.7</i><i class=a7>3.7</i><i class=a7>3.7</i><i class=a7>3.7</i><i class=a7>3.7</i><i class=a6>2.8</i><i class=a6>2.8</i><i class=a6>2.8</i><i class=a6>2.8</i><i class=a6>2.8</i><i class=a6>2.8</i><i class=a6>2.8</i><i class=a6>2.8</i><i class=a8>3.9</i><i class=a8>3.9</i><i class=a8>3.9</i><i class=a8>3.9</i><i class=a8>3.9</i><i class=a8>3.9</i><i class=a8>3.9</i><i class=a8>3.9</i>
<i class=a11>5.6</i><i class=a11>5.6</i><i class=a11>5.6</i><i class=a11>5.6</i><i class=a11>5.6</i><i class=a11>5.6</i><i class=a11>5.6</i><i class=a11>5.6</i><i class=a11>5.6</i><i class=a11>5.6</i><i class=a9>4.6</i><i class=a9>4.6</i><i class=a9>4.6</i><i class=a7>3.6</i><i class=a7>3.6</i><i class=a7>3.6</i><i class=a7>3.6</i><i class=a7>3.7</i><i class=a7>3.7</i><i class=a7>3.7</i><i class=a7>3.7</i><i class=a7>3.7</i><i class=a7>3.7</i><i class=a7>3.7</i><i class=a7>3.7</i><i class=a6>2.8</i><i class=a6>2.8</i><i class=a6>2.8</i><i class=a6>2.8</i><i class=a6>2.8</i><i class=a6>2.8</i><i class=a6>2.8</i><i class=a6>2.8</i><i class=a8>3.9</i><i class=a8>3.9</i><i class=a8>3.9</i><i class=a8>3.9</i><i class=a8>3.9</i><i class=a8>3.9</i><i class=a8>3.9</i><i class=a8>3.9</i>
<i class=a11>5.6</i><i class=a11>5.6</i><i class=a11>5.6</i><i class=a11>5.6</i><i class=a11>5.6</i><i class=a11>5.6</i><i class=a11>5.6</i><i class=a11>5.6</i><i class=a11>5.6</i><i class=a11>5.6</i><i class=a9>4.6</i><i class=a9>4.6</i><i class=a9>4.6</i><i class=a7>3.6</i><i class=a7>3.6</i><i class=a7>3.6</i><i class=a7>3.6</i><i class=a7>3.7</i><i class=a7>3.7</i><i class=a7>3.7</i><i class=a7>3.7</i><i class=a7>3.7</i><i class=a7>3.7</i><i class=a7>3.7</i><i class=a7>3.7</i><i class=a6>2.8</i><i class=a6>2.8</i><i class=a6>2.8</i><i class=a6>2.8</i><i class=a6>2.8</i><i class=a6>2.8</i><i class=a6>2.8</i><i class=a6>2.8</i><i class=a8>3.9</i><i class=a8>3.9</i><i class=a8>3.9</i><i class=a8>3.9</i><i class=a8>3.9</i><i class=a8>3.9</i><i class=a8>3.9</i><i class=a8>3.9</i>
<i class=a11>5.6</i><i class=a11>5.6</i><i class=a11>5.6</i><i class=a11>5.6</i><i class=a11>5.6</i><i class=a11>5.6</i><i class=a11>5.6</i><i class=a11>5.6</i><i class=a11>5.6</i><i class=a11>5.6</i><i class=a9>4.6</i><i class=a9>4.6</i><i class=a9>4.6</i><i class=a7>3.6</i><i class=a7>3.6</i><i class=a7>3.6</i><i class=a7>3.6</i><i class=a7>3.7</i><i class=a7>3.7</i><i class=a7>3.7</i><i class=a7>3.7</i><i class=a7>3.7</i><i class=a7>3.7</i><i class=a7>3.7</i><i class=a7>3.7</i><i class=a6>2.8</i><i class=a6>2.8</i><i class=a6>2.8</i><i class=a6>2.8</i><i class=a6>2.8</i><i class=a6>2.8</i><i class=a6>2.8</i><i class=a6>2.8</i><i class=a8>3.9</i><i class=a8>3.9</i><i class=a8>3.9</i><i class=a8>3.9</i><i class=a8>3.9</i><i class=a8>3.9</i><i class=a8>3.9</i><i class=a8>3.9</i>
<i class=a11>5.6</i><i class=a11>5.6</i><i class=a11>5.6</i><i class=a11>5.6</i><i class=a11>5.6</i><i class=a11>5.6</i><i class=a11>5.6</i><i class=a11>5.6</i><i class=a11>5.6</i><i class=a11>5.6</i><i class=a9>4.6</i><i class=a9>4.6</i><i class=a9>4.6</i><i class=a7>3.6</i><i class=a7>3.6</i><i class=a7>3.6</i><i class=a7>3.6</i><i class=a7>3.7</i><i class=a7>3.7</i><i class=a7>3.7</i><i class=a7>3.7</i><i class=a7>3.7</i><i class=a7>3.7</i><i class=a7>3.7</i><i class=a7>3.7</i><i class=a6>2.8</i><i class=a6>2.8</i><i class=a6>2.8</i><i class=a6>2.8</i><i class=a6>2.8</i><i class=a6>2.8</i><i class=a6>2.8</i><i class=a6>2.8</i><i class=a8>3.9</i><i class=a8>3.9</i><i class=a8>3.9</i><i class=a8>3.9</i><i class=a8>3.9</i><i class=a8>3.9</i><i class=a8>3.9</i><i class=a8>3.9</i>
<i class=a11>5.6</i><i class=a11>5.6</i><i class=a11>5.6</i><i class=a11>5.6</i><i class=a11>5.6</i><i class=a11>5.6</i><i class=a11>5.6</i><i class=a11>5.6</i><i class=a11>5.6</i><i class=a11>5.6</i><i class=a9>4.6</i><i class=a9>4.6</i><i class=a9>4.6</i><i class=a7>3.6</i><i class=a7>3.6</i><i class=a7>3.6</i><i class=a7>3.6</i><i class=a7>3.7</i><i class=a7>3.7</i><i class=a7>3.7</i><i class=a7>3.7</i><i class=a7>3.7</i><i class=a7>3.7</i><i class=a7>3.7</i><i class=a7>3.7</i><i class=a6>2.8</i><i class=a6>2.8</i><i class=a6>2.8</i><i class=a6>2.8</i><i class=a6>2.8</i><i class=a6>2.8</i><i class=a6>2.8</i><i class=a6>2.8</i><i class=a8>3.9</i><i class=a8>3.9</i><i class=a8>3.9</i><i class=a8>3.9</i><i class=a8>3.9</i><i class=a8>3.9</i><i class=a8>3.9</i><i class=a8>3.9</i>
<i>0.0</i><i>0.0</i><i>0.0</i><i>0.0</i><i>0.0</i><i>0.0</i><i>0.0</i><i>0.0</i><i>0.0</i><i>0.0</i><i>0.0</i><i>0.0</i><i>0.0</i><i>0.0</i><i>0.0</i><i>0.0</i><i>0.0</i><i>0.0</i><i>0.0</i><i>0.0</i><i>0.0</i><i>0.0</i><i>0.0</i><i>0.0</i><i>0.0</i><i>0.0</i><i>0.0</i><i>0.0</i><i>0.0</i><i>0.0</i><i>0.0</i><i>0.0</i><i>0.0</i><i>0.0</i><i>0.0</i><i>0.0</i><i>0.0</i><i>0.0</i><i>0.0</i><i>0.0</i><i>0.0</i>
<i>0.0</i><i>0.0</i><i>0.0</i><i>0.0</i><i>0.0</i><i>0.0</i><i>0.0</i><i>0.0</i><i>0.0</i><i>0.0</i><i>0.0</i><i>0.0</i><i>0.0</i><i>0.0</i><i>0.0</i><i>0.0</i><i>0.0</i><i>0.0</i><i>0.0</i><i>0.0</i><i>0.0</i><i>0.0</i><i>0.0</i><i>0.0</i><i>0.0</i><i>0.0</i><i>0.0</i><i>0.0</i><i>0.0</i><i>0.0</i><i>0.0</i><i>0.0</i><i>0.0</i><i>0.0</i><i>0.0</i><i>0.0</i><i>0.0</i><i>0.0</i><i>0.0</i><i>0.0</i><i>0.0</i>
<i>0.0</i><i>0.0</i><i>0.0</i><i>0.0</i><i>0.0</i><i>0.0</i><i>0.0</i><i>0.0</i><i>0.0</i><i>0.0</i><i>0.0</i><i>0.0</i><i>0.0</i><i>0.0</i><i>0.0</i><i>0.0</i><i>0.0</i><i>0.0</i><i>0.0</i><i>0.0</i><i>0.0</i><i>0.0</i><i>0.0</i><i>0.0</i><i>0.0</i><i>0.0</i><i>0.0</i><i>0.0</i><i>0.0</i><i>0.0</i><i>0.0</i><i>0.0</i><i>0.0</i><i>0.0</i><i>0.0</i><i>0.0</i><i>0.0</i><i>0.0</i><i>0.0</i><i>0.0</i><i>0.0</i>
<i>0.0</i><i>0.0</i><i>0.0</i><i>0.0</i><i>0.0</i><i>0.0</i><i>0.0</i><i>0.0</i><i>0.0</i><i>0.0</i><i>0.0</i><i>0.0</i><i>0.0</i><i>0.0</i><i>0.0</i><i>0.0</i><i>0.0</i><i>0.0</i><i>0.0</i><i>0.0</i><i>0.0</i><i>0.0</i><i>0.0</i><i>0.0</i><i>0.0</i><i>0.0</i><i>0.0</i><i>0.0</i><i>0.0</i><i>0.0</i><i>0.0</i><i>0.0</i><i>0.0</i><i>0.0</i><i>0.0</i><i>0.0</i><i>0.0</i><i>0.0</i><i>0.0</i><i>0.0</i><i>0.0</i>
<i>0.0</i><i>0.0</i><i>0.0</i><i>0.0</i><i>0.0</i><i>0.0</i><i>0.0</i><i>0.0</i><i>0.0</i><i>0.0</i><i>0.0</i><i>0.0</i><i>0.0</i><i>0.0</i><i>0.0</i><i>0.0</i><i>0.0</i><i>0.0</i><i>0.0</i><i>0.0</i><i>0.0</i><i>0.0</i><i>0.0</i><i>0.0</i><i>0.0</i><i>0.0</i><i>0.0</i><i>0.0</i><i>0.0</i><i>0.0</i><i>0.0</i><i>0.0</i><i>0.0</i><i>0.0</i><i>0.0</i><i>0.0</i><i>0.0</i><i>0.0</i><i>0.0</i><i>0.0</i><i>0.0</i>
<i>0.0</i><i>0.0</i><i>0.0</i><i>0.0</i><i>0.0</i><i>0.0</i><i>0.0</i><i>0.0</i><i>0.0</i><i>0.0</i><i>0.0</i><i>0.0</i><i>0.0</i><i>0.0</i><i>0.0</i><i>0.0</i><i>0.0</i><i>0.0</i><i>0.0</i><i>0.0</i><i>0.0</i><i>0.0</i><i>0.0</i><i>0.0</i><i>0.0</i><i>0.0</i><i>0.0</i><i>0.0</i><i>0.0</i><i>0.0</i><i>0.0</i><i>0.0</i><i>0.0</i><i>0.0</i><i>0.0</i><i>0.0</i><i>0.0</i><i>0.0</i><i>0.0</i><i>0.0</i><i>0.0</i>
<i>0.0</i><i>0.0</i><i>0.0</i><i>0.0</i><i>0.0</i><i>0.0</i><i>0.0</i><i>0.0</i><i>0.0</i><i>0.0</i><i>0.0</i><i>0.0</i><i>0.0</i><i>0.0</i><i>0.0</i><i>0.0</i><i>0.0</i><i>0.0</i><i>0.0</i><i>0.0</i><i>0.0</i><i>0.0</i><i>0.0</i><i>0.0</i><i>0.0</i><i>0.0</i><i>0.0</i><i>0.0</i><i>0.0</i><i>0.0</i><i>0.0</i><i>0.0</i><i>0.0</i><i>0.0</i><i>0.0</i><i>0.0</i><i>0.0</i><i>0.0</i><i>0.0</i><i>0.0</i><i>0.0</i>
<i>0.0</i><i>0.0</i><i>0.0</i><i>0.0</i><i>0.0</i><i>0.0</i><i>0.0</i><i>0.0</i><i>0.0</i><i>0.0</i><i>0.0</i><i>0.0</i><i>0.0</i><i>0.0</i><i>0.0</i><i>0.0</i><i>0.0</i><i>0.0</i><i>0.0</i><i>0.0</i><i>0.0</i><i>0.0</i><i>0.0</i><i>0.0</i><i>0.0</i><i>0.0</i><i>0.0</i><i>0.0</i><i>0.0</i><i>0.0</i><i>0.0</i><i>0.0</i><i>0.0</i><i>0.0</i><i>0.0</i><i>0.0</i><i>0.0</i><i>0.0</i><i>0.0</i><i>0.0</i><i>0.0</i>
<i>0.0</i><i>0.0</i><i>0.0</i><i>0.0</i><i>0.0</i><i>0.0</i><i>0.0</i><i>0.0</i><i>0.0</i><i>0.0</i><i>0.0</i><i>0.0</i><i>0.0</i><i>0.0</i><i>0.0</i><i>0.0</i><i>0.0</i><i>0.0</i><i>0.0</i><i>0.0</i><i>0.0</i><i>0.0</i><i>0.0</i><i>0.0</i><i>0.0</i><i>0.0</i><i>0.0</i><i>0.0</i><i>0.0</i><i>0.0</i><i>0.0</i><i>0.0</i><i>0.0</i><i>0.0</i><i>0.0</i><i>0.0</i><i>0.0</i><i>0.0</i><i>0.0</i><i>0.0</i><i>0.0</i>
<i>0.0</i><i>0.0</i><i>0.0</i><i>0.0</i><i>0.0</i><i>0.0</i><i>0.0</i><i>0.0</i><i>0.0</i><i>0.0</i><i>0.0</i><i>0.0</i><i>0.0</i><i>0.0</i><i>0.0</i><i>0.0</i><i>0.0</i><i>0.0</i><i>0.0</i><i>0.0</i><i>0.0</i><i>0.0</i><i>0.0</i><i>0.0</i><i>0.0</i><i>0.0</i><i>0.0</i><i>0.0</i><i>0.0</i><i>0.0</i><i>0.0</i><i>0.0</i><i>0.0</i><i>0.0</i><i>0.0</i><i>0.0</i><i>0.0</i><i>0.0</i><i>0.0</i><i>0.0</i><i>0.0</i>
<i>0.0</i><i>0.0</i><i>0.0</i><i>0.0</i><i>0.0</i><i>0.0</i><i>0.0</i><i>0.0</i><i>0.0</i><i>0.0</i><i>0.0</i><i>0.0</i><i>0.0</i><i>0.0</i><i>0.0</i><i>0.0</i><i>0.0</i><i>0.0</i><i>0.0</i><i>0.0</i><i>0.0</i><i>0.0</i><i>0.0</i><i>0.0</i><i>0.0</i><i>0.0</i><i>0.0</i><i>0.0</i><i>0.0</i><i>0.0</i><i>0.0</i><i>0.0</i><i>0.0</i><i>0.0</i><i>0.0</i><i>0.0</i><i>0.0</i><i>0.0</i><i>0.0</i><i>0.0</i><i>0.0</i>
<i>0.0</i><i>0.0</i><i>0.0</i><i>0.0</i><i>0.0</i><i>0.0</i><i>0.0</i><i>0.0</i><i>0.0</i><i>0.0</i><i>0.0</i><i>0.0</i><i>0.0</i><i>0.0</i><i>0.0</i><i>0.0</i><i>0.0</i><i>0.0</i><i>0.0</i><i>0.0</i><i>0.0</i><i>0.0</i><i>0.0</i><i>0.0</i><i>0.0</i><i>0.0</i><i>0.0</i><i>0.0</i><i>0.0</i><i>0.0</i><i>0.0</i><i>0.0</i><i>0.0</i><i>0.0</i><i>0.0</i><i>0.0</i><i>0.0</i><i>0.0</i><i>0.0</i><i>0.0</i><i>0.0</i>
<i>0.0</i><i>0.0</i><i>0.0</i><i>0.0</i><i>0.0</i><i>0.0</i><i>0.0</i><i>0.0</i><i>0.0</i><i>0.0</i><i>0.0</i><i>0.0</i><i>0.0</i><i>0.0</i><i>0.0</i><i>0.0</i><i>0.0</i><i>0.0</i><i>0.0</i><i>0.0</i><i>0.0</i><i>0.0</i><i>0.0</i><i>0.0</i><i>0.0</i><i>0.0</i><i>0.0</i><i>0.0</i><i>0.0</i><i>0.0</i><i>0.0</i><i>0.0</i><i>0.0</i><i>0.0</i><i>0.0</i><i>0.0</i><i>0.0</i><i>0.0</i><i>0.0</i><i>0.0</i><i>0.0</i>
<i>0.0</i><i>0.0</i><i>0.0</i><i>0.0</i><i>0.0</i><i>0.0</i><i>0.0</i><i>0.0</i><i>0.0</i><i>0.0</i><i>0.0</i><i>0.0</i><i>0.0</i><i>0.0</i><i>0.0</i><i>0.0</i><i>0.0</i><i>0.0</i><i>0.0</i><i>0.0</i><i>0.0</i><i>0.0</i><i>0.0</i><i>0.0</i><i>0.0</i><i>0.0</i><i>0.0</i><i>0.0</i><i>0.0</i><i>0.0</i><i>0.0</i><i>0.0</i><i>0.0</i><i>0.0</i><i>0.0</i><i>0.0</i><i>0.0</i><i>0.0</i><i>0.0</i><i>0.0</i><i>0.0</i>
<i>0.0</i><i>0.0</i><i>0.0</i><i>0.0</i><i>0.0</i><i>0.0</i><i>0.0</i><i>0.0</i><i>0.0</i><i>0.0</i><i>0.0</i><i>0.0</i><i>0.0</i><i>0.0</i><i>0.0</i><i>0.0</i><i>0.0</i><i>0.0</i><i>0.0</i><i>0.0</i><i>0.0</i><i>0.0</i><i>0.0</i><i>0.0</i><i>0.0</i><i>0.0</i><i>0.0</i><i>0.0</i><i>0.0</i><i>0.0</i><i>0.0</i><i>0.0</i><i>0.0</i><i>0.0</i><i>0.0</i><i>0.0</i><i>0.0</i><i>0.0</i><i>0.0</i><i>0.0</i><i>0.0</i>
<i>0.0</i><i>0.0</i><i>0.0</i><i>0.0</i><i>0.0</i><i>0.0</i><i>0.0</i><i>0.0</i><i>0.0</i><i>0.0</i><i>0.0</i><i>0.0</i><i>0.0</i><i>0.0</i><i>0.0</i><i>0.0</i><i>0.0</i><i>0.0</i><i>0.0</i><i>0.0</i><i>0.0</i><i>0.0</i><i>0.0</i><i>0.0</i><i>0.0</i><i>0.0</i><i>0.0</i><i>0.0</i><i>0.0</i><i>0.0</i><i>0.0</i><i>0.0</i><i>0.0</i><i>0.0</i><i>0.0</i><i>0.0</i><i>0.0</i><i>0.0</i><i>0.0</i><i>0.0</i><i>0.0</i>
</div>

<!-- borders -->
<div class="abs" style="left:245px;top:413px;width:70px;height:3px;background:#000"></div>
<div class="abs" style="left:311px;top:413px;width:2382px;height:1083px;border:3px solid #000"></div>
<div class="abs" style="left:1182px;top:607px;width:641px;height:259px;border:3px solid #000"></div>

</body></html>
